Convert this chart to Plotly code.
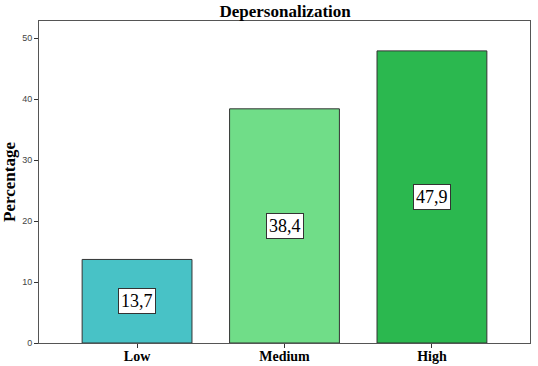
import plotly.graph_objects as go

categories = ["Low", "Medium", "High"]
values = [13.7, 38.4, 47.9]
labels = ["13,7", "38,4", "47,9"]
colors = ["#48C2C6", "#70DD88", "#2BB84F"]

fig = go.Figure()
fig.add_trace(go.Bar(
    x=list(range(len(categories))), y=values,
    marker=dict(color=colors, line=dict(color="#333333", width=1)),
    width=0.745, hoverinfo="skip",
))
for i, (v, t) in enumerate(zip(values, labels)):
    fig.add_annotation(
        x=i, y=v / 2, text=t, showarrow=False,
        font=dict(family="Liberation Serif", size=18, color="black"),
        bgcolor="white", bordercolor="#333333", borderwidth=1, borderpad=2,
    )

fig.update_layout(
    width=538, height=366,
    margin=dict(l=39, r=8, t=21, b=23),
    paper_bgcolor="white", plot_bgcolor="white",
    showlegend=False,
    title=dict(text="<b>Depersonalization</b>", x=0.53, xanchor="center",
               y=0.97, yanchor="middle", automargin=False,
               font=dict(family="Liberation Serif", size=17, color="black")),
    xaxis=dict(
        range=[-0.665, 2.665], tickmode="array", automargin=False,
        tickvals=list(range(len(categories))), ticktext=[f"<b>{c}</b>" for c in categories],
        tickfont=dict(family="Liberation Serif", size=14, color="black"),
        ticks="outside", ticklen=4, tickcolor="#333333", ticklabelstandoff=-4,
        showline=True, linecolor="#555555", linewidth=1, mirror=True,
        showgrid=False, zeroline=False,
    ),
    yaxis=dict(
        range=[0, 52.8], tickvals=[0, 10, 20, 30, 40, 50], automargin=False,
        tickfont=dict(family="Liberation Sans", size=9, color="#444444"),
        ticks="outside", ticklen=4, tickcolor="#333333",
        showline=True, linecolor="#555555", linewidth=1, mirror=True,
        showgrid=False, zeroline=False,
        title=dict(text="<b>Percentage</b>", standoff=4,
                   font=dict(family="Liberation Serif", size=17, color="black")),
    ),
)

fig.write_html("out.html", config={"displayModeBar": False},
               post_script="document.body.style.margin='0';document.body.style.overflow='hidden';")
